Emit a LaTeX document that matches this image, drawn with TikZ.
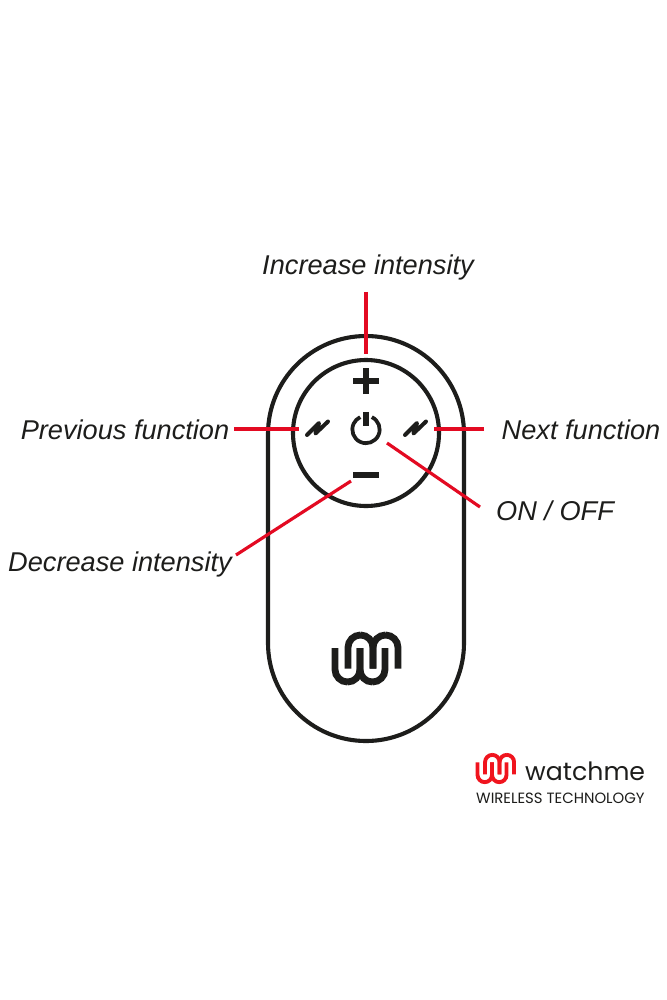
\documentclass[tikz,border=0pt]{standalone}
\usepackage{xcolor}
\usepackage{fontspec}
\usetikzlibrary{positioning}
\setmainfont{Liberation Sans}
\newfontfamily\brandfont{Poppins}
\definecolor{calloutred}{HTML}{E30A22}
\definecolor{logored}{HTML}{F0141E}
\definecolor{inkblack}{HTML}{1D1D1B}
\tikzset{
    pics/wmlogo/.style={code={
        \foreach \xa in {-31,-6} {
            \pgfmathsetmacro{\xb}{\xa+25}
            \draw[pic actions] (\xa,-10.5) -- (\xa,23.5) -- (\xb,23.5) -- (\xb,-10.5);
        }
        \foreach \xa in {-18,7} {
            \pgfmathsetmacro{\xb}{\xa+25}
            \draw[pic actions] (\xa,10) -- (\xa,-23.5) -- (\xb,-23.5) -- (\xb,10);
        }
    }},
    pics/bolt/.style={code={
        \draw[pic actions] (-10,7) -- (2,-5) -- (-1.5,5.5) -- (11,-6.5);
    }},
}
\begin{document}
\begin{tikzpicture}[
    x=0.03cm, y=-0.03cm,
    shell/.style={draw=inkblack, line width=3.5pt, fill=none},
    callout/.style={draw=calloutred, line width=2.7pt},
    glyph/.style={draw=inkblack, line width=#1},
    label/.style={font=\fontsize{23.2}{28}\selectfont\itshape, text=inkblack, inner sep=0pt},
]
    \useasboundingbox[fill=white] (0,0) rectangle (667,1000);

    % Remote
    \node[shell, rounded corners=2.94cm, minimum width=5.88cm, minimum height=12.15cm] (body) at (366,538.5) {};
    \node[shell, circle, minimum size=4.38cm] (pad) at (366,433) {};

    % Buttons
    \coordinate (plusbtn) at (366,381);
    \coordinate (minusbtn) at (366,475);
    \coordinate (powerbtn) at (366,429.5);
    \draw[glyph=4.3pt] ([xshift=-0.39cm]plusbtn) -- ([xshift=0.39cm]plusbtn);
    \draw[glyph=4.3pt] ([yshift=-0.39cm]plusbtn) -- ([yshift=0.39cm]plusbtn);
    \draw[glyph=4.3pt] ([xshift=-0.39cm]minusbtn) -- ([xshift=0.39cm]minusbtn);
    \draw[glyph=3.2pt] ([shift={(65:0.41cm)}]powerbtn) arc[start angle=65, end angle=-245, radius=0.41cm];
    \draw[glyph=4.3pt] ([yshift=0.53cm]powerbtn) -- ([yshift=0.1cm]powerbtn);
    \pic[glyph=3.4pt, line cap=round, line join=round] (prevbtn) at (317,428) {bolt};
    \pic[glyph=3.4pt, line cap=round, line join=round] (nextbtn) at (415,428) {bolt};

    % Logos
    \pic[glyph=5.8pt, rounded corners=0.375cm] (mark) at (366,658.5) {wmlogo};
    \pic[draw=logored, line width=3.3pt, rounded corners=0.2175cm, scale=0.58] (redmark) at (495.5,768.5) {wmlogo};
    \node[inner sep=0pt, anchor=base west, font=\fontsize{21.5}{24}\selectfont\brandfont, text=inkblack] (brand) at (525,780) {watchme};
    \node[inner sep=0pt, anchor=base west, font=\fontsize{12.7}{14}\selectfont\brandfont, text=inkblack] (wireless) at (476,803) {WIRELESS TECHNOLOGY};

    % Labels
    \node[label] (increase) at (368,267) {Increase intensity};
    \node[label] (previous) at (125,429.5) {Previous function};
    \node[label] (next) at (581,429.5) {Next function};
    \node[label] (onoff) at (555,511) {ON / OFF};
    \node[label] (decrease) at (120,564) {Decrease intensity};

    % Callouts
    \coordinate (plustip) at (366,354);
    \coordinate (prevtip) at (299,429);
    \coordinate (nexttip) at (434,429);
    \coordinate (powertip) at (387,443);
    \coordinate (minustip) at (351,481);
    \coordinate (nextend) at (484,429);
    \coordinate (onoffend) at (480,507);
    \coordinate (decreaseend) at (236,555);
    \draw[callout] ([yshift=-0.36cm]increase.south -| plustip) -- (plustip);
    \draw[callout] (previous.east |- prevtip) ++(0.15cm,0) -- (prevtip);
    \draw[callout] (nextend) -- (nexttip);
    \draw[callout] (onoffend) -- (powertip);
    \draw[callout] (decreaseend) -- (minustip);
\end{tikzpicture}
\end{document}
